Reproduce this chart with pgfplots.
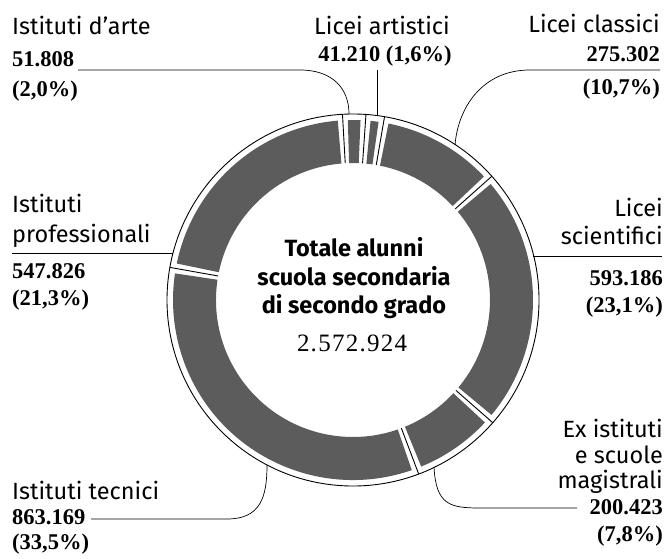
\documentclass[border=0pt]{standalone}
\usepackage{pgfplots}
\usepackage{pgfplotstable}
\pgfplotsset{compat=1.18}
\usepackage{fontspec}
\setmainfont{Fira Sans}
\newfontfamily\numfont{Liberation Serif}
\newfontfamily\bignumfont[LetterSpace=5]{Liberation Serif}
\definecolor{ringgray}{RGB}{92,92,92}

% clockwise from the top, starting with Licei artistici
\pgfplotstableread{
name value
artistici 41210
classici 275302
scientifici 593186
magistrali 200423
tecnici 863169
professionali 547826
arte 51808
}\data

\newcommand\lab{\fontsize{23.5bp}{28bp}\selectfont}
\newcommand\num{\numfont\bfseries\fontsize{22.5bp}{27bp}\selectfont}

\begin{document}
\begin{tikzpicture}
\begin{axis}[
  x=1bp, y=1bp, xmin=0, xmax=668, ymin=0, ymax=559, y dir=reverse,
  hide axis, scale only axis, clip=false]
\path (axis cs:0,0) rectangle (axis cs:668,559);

\pgfplotsextra{
  \gdef\total{0}
  \foreach \i in {0,...,6}{%
    \pgfplotstablegetelem{\i}{value}\of\data
    \xdef\total{\fpeval{\total+\pgfplotsretval}}%
  }
  \gdef\cum{4}
  \begin{scope}[shift={(axis cs:353,300)}]
    \draw[line width=0.9pt] (0,0) circle[radius=186bp];
    \foreach \i in {0,...,6}{%
      \pgfplotstablegetelem{\i}{value}\of\data
      \xdef\a{\fpeval{\cum}}%
      \xdef\b{\fpeval{\cum+360*\pgfplotsretval/\total}}%
      \xdef\cum{\b}%
      \pgfmathsetmacro\s{90-\a-1.6}
      \pgfmathsetmacro\e{90-\b+1.6}
      \fill[ringgray] (\s:137bp) -- (\s:180bp) arc[start angle=\s, end angle=\e, radius=180bp]
        -- (\e:137bp) arc[start angle=\e, end angle=\s, radius=137bp] -- cycle;
      \draw[line width=0.9pt] ({90-\a}:137bp) -- ({90-\a}:186bp);
    }
  \end{scope}
}

% leader lines
\draw[line width=0.7pt] (axis cs:78,70) -- (axis cs:300,70) .. controls (axis cs:332,70) and (axis cs:349,88) .. (axis cs:349,114);
\draw[line width=0.7pt] (axis cs:377,70) -- (axis cs:377,116);
\draw[line width=0.7pt] (axis cs:660,70) -- (axis cs:530,70) .. controls (axis cs:482,70) and (axis cs:458,108) .. (axis cs:455,145);
\draw[line width=0.7pt] (axis cs:12,253) -- (axis cs:173,253);
\draw[line width=0.7pt] (axis cs:533,256) -- (axis cs:662,256);
\draw[line width=0.7pt] (axis cs:434,467) .. controls (axis cs:436,505) and (axis cs:450,508) .. (axis cs:480,508) -- (axis cs:577,508);
\draw[line width=0.7pt] (axis cs:91,519) -- (axis cs:227,519) .. controls (axis cs:260,519) and (axis cs:267,498) .. (axis cs:267,465);

% labels
\node[anchor=base west, inner sep=0pt] at (axis cs:12,35) {\lab Istituti d’arte};
\node[anchor=base west, inner sep=0pt] at (axis cs:12,67) {\num 51.808};
\node[anchor=base west, inner sep=0pt] at (axis cs:12,97) {\num (2,0\%)};

\node[anchor=base, inner sep=0pt] at (axis cs:382,35) {\lab Licei artistici};
\node[anchor=base, inner sep=0pt] at (axis cs:385,62) {\num 41.210 (1,6\%)};

\node[anchor=base east, inner sep=0pt] at (axis cs:660,33) {\lab Licei classici};
\node[anchor=base east, inner sep=0pt] at (axis cs:660,62) {\num 275.302};
\node[anchor=base east, inner sep=0pt] at (axis cs:660,95) {\num (10,7\%)};

\node[anchor=base west, inner sep=0pt] at (axis cs:12,213) {\lab Istituti};
\node[anchor=base west, inner sep=0pt] at (axis cs:12,243) {\lab professionali};
\node[anchor=base west, inner sep=0pt] at (axis cs:12,278) {\num 547.826};
\node[anchor=base west, inner sep=0pt] at (axis cs:12,305) {\num (21,3\%)};

\node[anchor=base east, inner sep=0pt] at (axis cs:663,217) {\lab Licei};
\node[anchor=base east, inner sep=0pt] at (axis cs:663,245) {\lab scientifici};
\node[anchor=base east, inner sep=0pt] at (axis cs:663,285) {\num 593.186};
\node[anchor=base east, inner sep=0pt] at (axis cs:663,312) {\num (23,1\%)};

\node[anchor=base east, inner sep=0pt] at (axis cs:663,437) {\lab Ex istituti};
\node[anchor=base east, inner sep=0pt] at (axis cs:663,463) {\lab e scuole};
\node[anchor=base east, inner sep=0pt] at (axis cs:663,488) {\lab magistrali};
\node[anchor=base east, inner sep=0pt] at (axis cs:663,514) {\num 200.423};
\node[anchor=base east, inner sep=0pt] at (axis cs:663,541) {\num (7,8\%)};

\node[anchor=base west, inner sep=0pt] at (axis cs:12,499) {\lab Istituti tecnici};
\node[anchor=base west, inner sep=0pt] at (axis cs:12,524) {\num 863.169};
\node[anchor=base west, inner sep=0pt] at (axis cs:12,549) {\num (33,5\%)};

% centre
\node[anchor=base, inner sep=0pt] at (axis cs:354,257) {\lab\bfseries Totale alunni};
\node[anchor=base, inner sep=0pt] at (axis cs:354,285) {\lab\bfseries scuola secondaria};
\node[anchor=base, inner sep=0pt] at (axis cs:354,313) {\lab\bfseries di secondo grado};
\node[anchor=base, inner sep=0pt] at (axis cs:352,351) {\bignumfont\fontsize{25bp}{29bp}\selectfont 2.572.924};
\end{axis}
\end{tikzpicture}
\end{document}
